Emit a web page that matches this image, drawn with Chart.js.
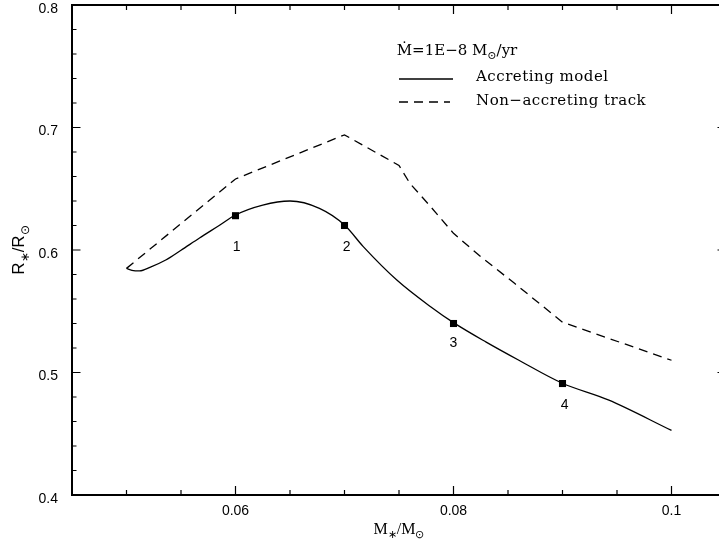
<!DOCTYPE html>
<html>
<head>
<meta charset="utf-8">
<title>Accreting model vs non-accreting track</title>
<script src="https://cdn.jsdelivr.net/npm/chart.js@4.4.1/dist/chart.umd.min.js"></script>
<style>
  html, body { margin: 0; padding: 0; background: #fff; overflow: hidden; }
  #wrap { width: 719px; height: 545px; overflow: hidden; }
</style>
</head>
<body>
<div id="wrap"><canvas id="chart" width="735" height="545"></canvas></div>
<script>
// accreting model (solid curve)
const accMass   = [0.0500, 0.0505, 0.0512, 0.0522, 0.0536, 0.0550, 0.0567, 0.0585, 0.0600, 0.0625, 0.0650,
                   0.0677, 0.0700, 0.0717, 0.0748, 0.0779, 0.0800, 0.0830, 0.0860, 0.0900, 0.0942, 0.1000];
const accRadius = [0.5850, 0.5834, 0.5829, 0.5860, 0.5918, 0.5998, 0.6098, 0.6200, 0.6286, 0.6367, 0.6400,
                   0.6340, 0.6204, 0.6030, 0.5755, 0.5537, 0.5407, 0.5248, 0.5100, 0.4912, 0.4776, 0.4527];
// non-accreting track (dashed)
const trackMass   = [0.050, 0.060, 0.070, 0.075, 0.076, 0.0779, 0.080, 0.0825, 0.0856, 0.090, 0.100];
const trackRadius = [0.585, 0.658, 0.694, 0.669, 0.6544, 0.6354, 0.6136, 0.5945, 0.5728, 0.541, 0.510];
// numbered models
const markMass   = [0.06, 0.07, 0.08, 0.09];
const markRadius = [0.628, 0.620, 0.540, 0.491];
const markNames  = ['1', '2', '3', '4'];
const nameMass   = [0.0601, 0.0702, 0.0800, 0.0902];
const nameRadius = [0.6025, 0.6025, 0.5240, 0.4735];
// axes
const xMajor = [0.06, 0.08, 0.1];
const xMinor = [0.05, 0.055, 0.065, 0.07, 0.075, 0.085, 0.09, 0.095];
const yMajor = [0.4, 0.5, 0.6, 0.7, 0.8];
const yMinor = [0.42, 0.44, 0.46, 0.48, 0.52, 0.54, 0.56, 0.58, 0.62, 0.64, 0.66, 0.68, 0.72, 0.74, 0.76, 0.78];

const pts = (xs, ys) => xs.map((x, i) => ({ x: x, y: ys[i] }));

// text with subscripts: parts = [[text, isSub], ...]
function richText(ctx, parts, x, y, size, family) {
  const big = size + 'px ' + family, small = Math.round(size * 0.7) + 'px ' + family;
  let w = 0;
  parts.forEach(p => { ctx.font = p[1] ? small : big; w += ctx.measureText(p[0]).width; });
  let cx = x - w / 2;
  ctx.textAlign = 'left';
  parts.forEach(p => {
    ctx.font = p[1] ? small : big;
    ctx.fillText(p[0], cx, p[1] ? y + size * 0.28 : y);
    cx += ctx.measureText(p[0]).width;
  });
}

const framePlugin = {
  id: 'frame',
  afterDraw(chart) {
    const { ctx, chartArea: a, scales: { x, y } } = chart;
    ctx.save();
    ctx.strokeStyle = '#000';
    ctx.lineWidth = 1.2;
    ctx.beginPath();
    const tick = (vals, len) => {
      vals.forEach(v => {
        const px = x.getPixelForValue(v);
        ctx.moveTo(px, a.bottom); ctx.lineTo(px, a.bottom - len);
        ctx.moveTo(px, a.top); ctx.lineTo(px, a.top + len);
      });
    };
    const tickY = (vals, len) => {
      vals.forEach(v => {
        const py = y.getPixelForValue(v);
        ctx.moveTo(a.left, py); ctx.lineTo(a.left + len, py);
        ctx.moveTo(a.right, py); ctx.lineTo(a.right - len, py);
      });
    };
    tick(xMajor, 9); tick(xMinor, 5);
    tickY(yMajor, 8.5); tickY(yMinor, 4.5);
    ctx.stroke();
    ctx.lineWidth = 2;
    ctx.strokeRect(a.left, a.top, a.right - a.left, a.bottom - a.top);

    // point numbers
    ctx.fillStyle = '#000';
    ctx.font = '14px "Liberation Sans"';
    ctx.textAlign = 'center';
    ctx.textBaseline = 'middle';
    markNames.forEach((n, i) => {
      ctx.fillText(n, x.getPixelForValue(nameMass[i]), y.getPixelForValue(nameRadius[i]));
    });

    // axis titles
    ctx.textBaseline = 'alphabetic';
    richText(ctx, [['M', false], ['\u2217', true], ['/M', false], ['\u2299', true]], 399, 534, 16, '"Liberation Serif"');
    ctx.save();
    ctx.translate(24, 250);
    ctx.rotate(-Math.PI / 2);
    richText(ctx, [['R', false], ['\u2217', true], ['/R', false], ['\u2299', true]], 0, 0, 17, '"Liberation Sans"');
    ctx.restore();

    // legend
    const lf = '"DejaVu Serif"';
    richText(ctx, [['\u1E40=1E\u22128 M', false], ['\u2299', true], ['/yr', false]], 457, 55, 15, lf);
    ctx.letterSpacing = '0.5px';
    ctx.font = '15px ' + lf;
    ctx.textAlign = 'left';
    ctx.fillText('Accreting model', 476, 81);
    ctx.fillText('Non\u2212accreting track', 476, 105);
    ctx.letterSpacing = '0px';
    ctx.lineWidth = 1.3;
    ctx.beginPath();
    ctx.moveTo(399, 79); ctx.lineTo(453, 79);
    ctx.stroke();
    ctx.setLineDash([9, 6]);
    ctx.beginPath();
    ctx.moveTo(399, 102); ctx.lineTo(450, 102);
    ctx.stroke();
    ctx.restore();
  }
};

new Chart(document.getElementById('chart'), {
  type: 'scatter',
  data: {
    datasets: [
      { label: 'Accreting model', data: pts(accMass, accRadius), showLine: true,
        borderColor: '#000', borderWidth: 1.3, pointRadius: 0, cubicInterpolationMode: 'monotone', fill: false },
      { label: 'Non-accreting track', data: pts(trackMass, trackRadius), showLine: true,
        borderColor: '#000', borderWidth: 1.3, borderDash: [9, 6], pointRadius: 0, tension: 0, fill: false },
      { label: 'Models', data: pts(markMass, markRadius), showLine: false,
        pointStyle: 'rect', pointRadius: 5, backgroundColor: '#000', borderColor: '#000', borderWidth: 0 }
    ]
  },
  options: {
    responsive: false,
    animation: false,
    devicePixelRatio: 1,
    layout: { padding: { top: 5, right: 9, left: 0, bottom: 0 } },
    plugins: { legend: { display: false }, tooltip: { enabled: false } },
    scales: {
      x: {
        type: 'linear', min: 0.045, max: 0.105,
        grid: { display: false, drawTicks: false }, border: { display: false },
        afterBuildTicks: s => { s.ticks = xMajor.map(v => ({ value: v })); },
        afterFit: s => { s.height = 50; s.paddingLeft = 0; s.paddingRight = 0; },
        ticks: { color: '#000', padding: 8, maxRotation: 0, font: { family: 'Liberation Sans', size: 14 },
                 callback: v => String(parseFloat(v.toFixed(3))) }
      },
      y: {
        type: 'linear', min: 0.4, max: 0.8,
        grid: { display: false, drawTicks: false }, border: { display: false },
        afterBuildTicks: s => { s.ticks = yMajor.map(v => ({ value: v })); },
        afterFit: s => { s.width = 72; s.paddingTop = 0; s.paddingBottom = 0; },
        ticks: { color: '#000', padding: 14, labelOffset: 4, font: { family: 'Liberation Sans', size: 14 },
                 callback: v => String(parseFloat(v.toFixed(2))) }
      }
    }
  },
  plugins: [framePlugin]
});
</script>
</body>
</html>
